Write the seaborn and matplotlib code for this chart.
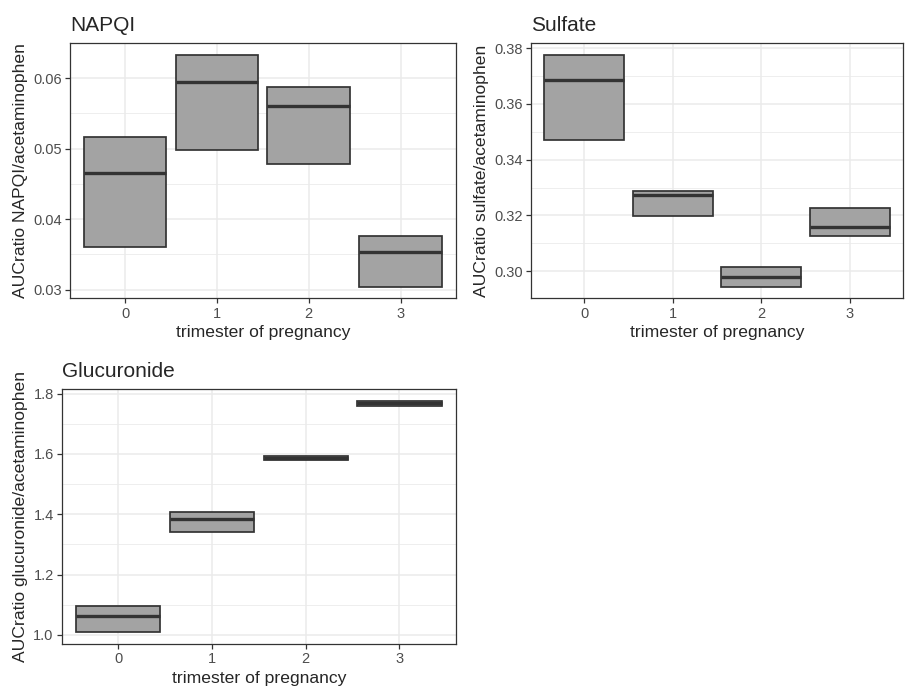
import numpy as np
import pandas as pd
import matplotlib.pyplot as plt
from matplotlib.ticker import MultipleLocator, FormatStrFormatter
import seaborn as sns

# values (box bottom / median / box top per trimester)
trimesters = [0, 1, 2, 3]

napqi_lower = [0.0360, 0.0498, 0.0478, 0.0304]
napqi_median = [0.0466, 0.0595, 0.0560, 0.0353]
napqi_upper = [0.0516, 0.0633, 0.0588, 0.0376]

sulfate_lower = [0.3469, 0.3196, 0.2944, 0.3125]
sulfate_median = [0.3686, 0.3273, 0.2979, 0.3157]
sulfate_upper = [0.3776, 0.3288, 0.3015, 0.3225]

glucuronide_lower = [1.008, 1.342, 1.580, 1.759]
glucuronide_median = [1.061, 1.384, 1.5855, 1.768]
glucuronide_upper = [1.094, 1.409, 1.5934, 1.777]

FILL = "#A3A3A3"
EDGE = "#333333"
GRID = "#EBEBEB"

sns.set_style("white")
plt.rcParams["font.family"] = ["Liberation Sans", "DejaVu Sans"]

W, H = 905, 687


def long_frame(lower, median, upper):
    # five points per group so that q1 / median / q3 land exactly on the read values
    rows = []
    for t, lo, md, hi in zip(trimesters, lower, median, upper):
        for v in (lo, lo, md, hi, hi):
            rows.append({"trimester": t, "value": v})
    return pd.DataFrame(rows)


def panel(rect_px, lower, median, upper, title, ylabel, major, fmt):
    left, top, right, bottom = rect_px
    ax = fig.add_axes([left / W, 1 - bottom / H, (right - left) / W, (bottom - top) / H])
    df = long_frame(lower, median, upper)
    sns.boxplot(data=df, x="trimester", y="value", order=trimesters, ax=ax,
                width=0.9, whis=0, showcaps=False, showfliers=False,
                color=FILL, saturation=1, linecolor=EDGE, linewidth=1.25,
                whiskerprops={"linewidth": 0},
                medianprops={"linewidth": 2.4, "color": EDGE})

    lo, hi = min(lower), max(upper)
    pad = 0.05 * (hi - lo)
    ax.set_ylim(lo - pad, hi + pad)
    ax.set_xlim(-0.6, 3.6)

    ax.yaxis.set_major_locator(MultipleLocator(major))
    ax.yaxis.set_minor_locator(MultipleLocator(major / 2))
    ax.yaxis.set_major_formatter(FormatStrFormatter(fmt))

    ax.set_axisbelow(True)
    ax.grid(which="major", color=GRID, linewidth=1.1)
    ax.grid(which="minor", axis="y", color=GRID, linewidth=0.6)
    for s in ax.spines.values():
        s.set_color(EDGE)
        s.set_linewidth(0.9)
    ax.tick_params(which="major", length=3.5, width=0.9, color=EDGE,
                   labelcolor="#4D4D4D", labelsize=10.5, pad=2.5,
                   bottom=True, left=True)
    ax.tick_params(which="minor", length=0, left=False)

    ax.set_title(title, loc="left", fontsize=15, pad=9)
    ax.set_xlabel("trimester of pregnancy", fontsize=12.6, labelpad=3)
    ax.set_ylabel(ylabel, fontsize=12.6, labelpad=3.5)
    return ax


fig = plt.figure(figsize=(W / 100, H / 100), dpi=100)

panel((70, 43.3, 455.7, 298.3), napqi_lower, napqi_median, napqi_upper,
      "NAPQI", "AUCratio NAPQI/acetaminophen", 0.01, "%.2f")
panel((531, 43.3, 903, 298.3), sulfate_lower, sulfate_median, sulfate_upper,
      "Sulfate", "AUCratio sulfate/acetaminophen", 0.02, "%.2f")
panel((62, 389, 455.7, 644), glucuronide_lower, glucuronide_median, glucuronide_upper,
      "Glucuronide", "AUCratio glucuronide/acetaminophen", 0.2, "%.1f")

fig.savefig("out.png", dpi=100, facecolor="white")
